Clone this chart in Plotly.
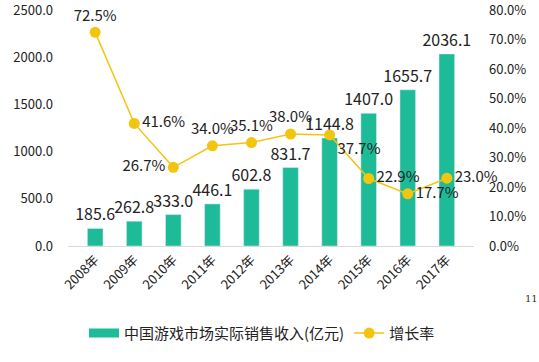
import plotly.graph_objects as go

years = ["2008年", "2009年", "2010年", "2011年", "2012年", "2013年", "2014年", "2015年", "2016年", "2017年"]
revenue = [185.6, 262.8, 333.0, 446.1, 602.8, 831.7, 1144.8, 1407.0, 1655.7, 2036.1]
growth = [72.5, 41.6, 26.7, 34.0, 35.1, 38.0, 37.7, 22.9, 17.7, 23.0]
growth_pos = ["top center", "middle right", "middle left", "top center", "top center",
              "top center", "bottom right", "middle right", "middle right", "middle right"]
left_ticks = [0, 500, 1000, 1500, 2000, 2500]
right_ticks = [0, 10, 20, 30, 40, 50, 60, 70, 80]

font_family = "Noto Sans CJK SC, Noto Sans, sans-serif"
bar_color = "#1DBB98"
line_color = "#F2C511"

fig = go.Figure()
fig.add_trace(go.Bar(
    x=years, y=revenue, name="中国游戏市场实际销售收入(亿元)",
    marker_color=bar_color, showlegend=False,
    text=[f"{v:.1f}" for v in revenue], textposition="outside",
    constraintext="none",
    textfont=dict(size=16, color="#222"), cliponaxis=False,
))
# legend-only entry giving a wide rectangular swatch for the bars
fig.add_trace(go.Scatter(
    x=[None], y=[None], name="中国游戏市场实际销售收入(亿元)",
    mode="lines", line=dict(color=bar_color, width=9),
))
fig.add_trace(go.Scatter(
    x=years, y=growth, name="增长率", yaxis="y2",
    mode="lines+markers+text",
    line=dict(color=line_color, width=1.5),
    marker=dict(color=line_color, size=11),
    text=[f"{v:.1f}%" for v in growth], textposition=growth_pos,
    textfont=dict(size=15, color="#222"), cliponaxis=False,
))

fig.add_annotation(text="11", xref="paper", yref="paper",
                   x=(531 - 68) / (474 - 68), y=(246 - 298) / (246 - 10),
                   xanchor="center", yanchor="middle", showarrow=False,
                   font=dict(family="DejaVu Serif", size=10, color="#333"))

fig.update_layout(
    width=539, height=362,
    margin=dict(l=68, r=65, t=10, b=116, autoexpand=False),
    paper_bgcolor="white", plot_bgcolor="white",
    font=dict(family=font_family, size=13, color="#222"),
    bargap=0.6,
    showlegend=True,
    legend=dict(orientation="h", x=(84 - 68) / 406, xanchor="left", y=-0.30, yanchor="top",
                font=dict(size=15), itemwidth=30, tracegroupgap=0),
    xaxis=dict(tickangle=-45, showline=True, linecolor="#D9D9D9", ticks="",
               showgrid=False, tickfont=dict(size=13), automargin=False),
    yaxis=dict(range=[0, 2502], tickvals=left_ticks,
               ticktext=[f"{v:.1f}" for v in left_ticks], showgrid=False,
               zeroline=False, ticklabelstandoff=14, tickfont=dict(size=13),
               automargin=False, ticklabeloverflow="allow"),
    yaxis2=dict(range=[0, 80.08], tickvals=right_ticks,
                ticktext=[f"{v:.1f}%" for v in right_ticks],
                overlaying="y", side="right", showgrid=False, zeroline=False,
                ticklabelstandoff=14, tickfont=dict(size=13),
                automargin=False, ticklabeloverflow="allow"),
)

fig.write_html("out.html", config={"displayModeBar": False},
               post_script="document.body.style.margin='0';")
